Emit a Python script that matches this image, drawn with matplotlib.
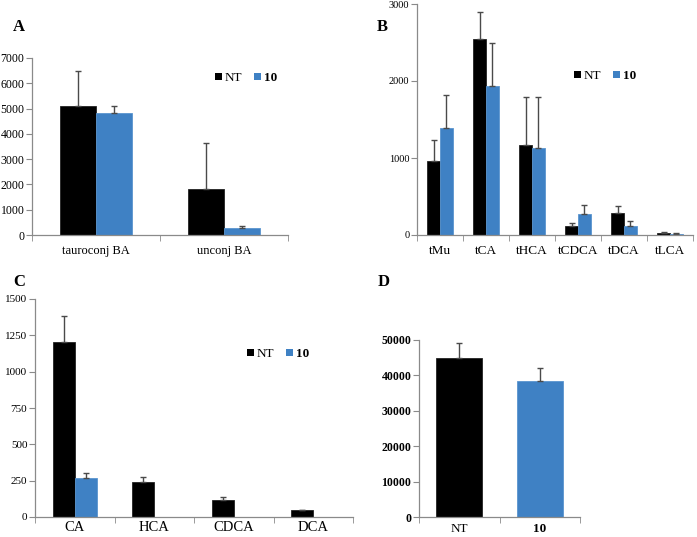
import matplotlib
matplotlib.use("Agg")
import matplotlib.pyplot as plt
from matplotlib.patches import Patch
import numpy as np

plt.rcParams['font.family'] = ['Liberation Serif', 'DejaVu Serif']

NT_COLOR = '#000000'
T10_COLOR = '#3f81c4'
ERR_COLOR = '#4a4a4a'
AX_COLOR = '#8a8a8a'

# Panel A
a_cats = ['tauroconj BA', 'unconj BA']
a_nt = [5100, 1800]
a_nt_err = [1400, 1850]
a_10 = [4820, 280]
a_10_err = [280, 90]

# Panel B
b_cats = ['tMu', 'tCA', 'tHCA', 'tCDCA', 'tDCA', 'tLCA']
b_nt = [960, 2540, 1170, 120, 280, 20]
b_nt_err = [280, 350, 620, 30, 100, 15]
b_10 = [1390, 1930, 1130, 270, 120, 10]
b_10_err = [430, 570, 660, 120, 60, 10]

# Panel C
c_cats = ['CA', 'HCA', 'CDCA', 'DCA']
c_nt = [1205, 240, 120, 45]
c_nt_err = [175, 35, 15, 5]
c_10 = [265, 0, 0, 0]
c_10_err = [35, 0, 0, 0]

# Panel D
d_cats = ['NT', '10']
d_vals = [44800, 38300]
d_err = [4400, 3700]

W, H = 697, 537
fig = plt.figure(figsize=(W / 100, H / 100), dpi=100)


def add_ax(x0, x1, y0, y1):
    return fig.add_axes([x0 / W, 1 - y1 / H, (x1 - x0) / W, (y1 - y0) / H])


def style(ax, n, ylim, yticks, labels, yfs=8, xfs=9, xpad=7):
    ax.set_xlim(-0.5, n - 0.5)
    ax.set_ylim(*ylim)
    for s in ['top', 'right']:
        ax.spines[s].set_visible(False)
    for s in ['left', 'bottom']:
        ax.spines[s].set_color(AX_COLOR)
        ax.spines[s].set_linewidth(0.9)
    ax.set_yticks(yticks)
    ax.tick_params(axis='y', direction='out', length=4, color=AX_COLOR,
                   labelsize=yfs, pad=1.5)
    ax.set_xticks(np.arange(n))
    ax.set_xticklabels(labels)
    ax.tick_params(axis='x', which='major', length=0, labelsize=xfs, pad=xpad)
    ax.set_xticks(np.arange(n + 1) - 0.5, minor=True)
    ax.tick_params(axis='x', which='minor', direction='out', length=4,
                   color=AX_COLOR)


EKW = dict(ecolor=ERR_COLOR, elinewidth=1, capsize=2.5, capthick=1)


def grouped(ax, nt, nt_err, t10, t10_err, w):
    x = np.arange(len(nt))
    nt = np.asarray(nt, float)
    t10 = np.asarray(t10, float)
    m1 = nt > 0
    m2 = t10 > 0
    ax.bar(x[m1] - w / 2, nt[m1], w, color=NT_COLOR, edgecolor='#222222',
           linewidth=0.6,
           yerr=[np.zeros(m1.sum()), np.asarray(nt_err)[m1]], error_kw=EKW,
           zorder=2)
    ax.bar(x[m2] + w / 2, t10[m2], w, color=T10_COLOR, edgecolor='#5a95cf',
           linewidth=0.6,
           yerr=[np.zeros(m2.sum()), np.asarray(t10_err)[m2]], error_kw=EKW,
           zorder=2)


def legend(ax, fx, fy):
    handles = [Patch(facecolor=NT_COLOR), Patch(facecolor=T10_COLOR)]
    leg = ax.legend(handles, ['NT', '10'], ncol=2, frameon=False,
                    handlelength=0.5, handleheight=0.5, handletextpad=0.25,
                    columnspacing=0.9, fontsize=9.5,
                    bbox_to_anchor=(fx / W, 1 - fy / H),
                    bbox_transform=fig.transFigure, loc='center left',
                    borderpad=0, borderaxespad=0)
    leg.get_texts()[1].set_fontweight('bold')


# A
axA = add_ax(32, 288, 58, 235)
style(axA, 2, (0, 7000), range(0, 7001, 1000), a_cats, yfs=8.5, xfs=9)
grouped(axA, a_nt, a_nt_err, a_10, a_10_err, 0.28)
legend(axA, 215, 78)
fig.text(13 / W, 1 - 27 / H, 'A', fontsize=12, fontweight='bold', va='center')

# B
axB = add_ax(417, 693, 4, 235)
style(axB, 6, (0, 3000), range(0, 3001, 1000), b_cats, yfs=7.5, xfs=9.5)
grouped(axB, b_nt, b_nt_err, b_10, b_10_err, 0.28)
legend(axB, 574, 76)
fig.text(377 / W, 1 - 27 / H, 'B', fontsize=12, fontweight='bold', va='center')

# C
axC = add_ax(35, 353, 299, 517)
style(axC, 4, (0, 1500), range(0, 1501, 250), c_cats, yfs=8, xfs=10.5,
      xpad=3)
grouped(axC, c_nt, c_nt_err, c_10, c_10_err, 0.277)
legend(axC, 247, 354)
fig.text(13 / W, 1 - 282 / H, 'C', fontsize=12, fontweight='bold', va='center')

# D
axD = add_ax(419, 580, 340, 517)
style(axD, 2, (0, 50000), range(0, 50001, 10000), d_cats, yfs=8.5, xfs=9.5,
      xpad=4)
xd = np.arange(2)
axD.bar(xd, d_vals, 0.57, color=[NT_COLOR, T10_COLOR],
        edgecolor=['#222222', '#5a95cf'], linewidth=0.6,
        yerr=[np.zeros(2), d_err], error_kw=EKW, zorder=2)
for lab in axD.get_xticklabels():
    if lab.get_text() == '10':
        lab.set_fontweight('bold')
for lab in axD.get_yticklabels():
    lab.set_fontweight('bold')
fig.text(378 / W, 1 - 282 / H, 'D', fontsize=12, fontweight='bold', va='center')

fig.savefig('out.png', dpi=100)
